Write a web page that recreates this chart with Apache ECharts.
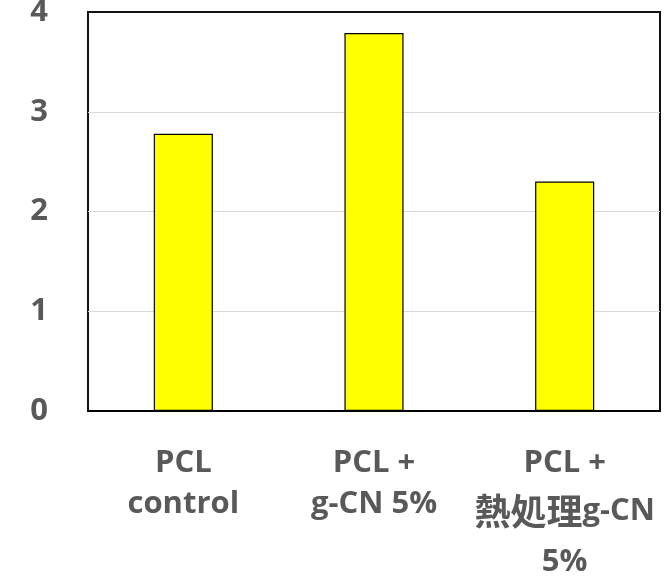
<!DOCTYPE html>
<html>
<head>
<meta charset="utf-8">
<script src="https://cdn.jsdelivr.net/npm/echarts@6/dist/echarts.min.js"></script>
<style>
  html, body { margin: 0; padding: 0; background: #fff; }
  #chart { width: 664px; height: 581px; }
</style>
</head>
<body>
<div id="chart"></div>
<script>
// Sample groups (rich-text tags pick the font and line spacing of each line)
const categories = [
  'PCL\ncontrol',
  'PCL +\ng-CN 5%',
  'PCL +\n{jp|熱処理}{jl|g-CN}\n{l3|5%}'
];
// Measured values per group
const values = [2.78, 3.79, 2.30];
// Value-axis ticks
const yTicks = [0, 1, 2, 3, 4];

const textColor = '#595959';
const latinFont = '"Open Sans", "Noto Sans CJK JP", sans-serif';

const chart = echarts.init(document.getElementById('chart'), null, { renderer: 'canvas' });
chart.setOption({
  animation: false,
  backgroundColor: '#ffffff',
  grid: {
    left: 88, right: 4, top: 12, bottom: 170,
    outerBoundsMode: 'none',
    containLabel: false,
    show: true,
    borderColor: '#111111',
    borderWidth: 2,
    backgroundColor: 'transparent'
  },
  xAxis: {
    type: 'category',
    data: categories,
    axisLine: { show: true, lineStyle: { color: '#000', width: 2 } },
    axisTick: { show: false },
    axisLabel: {
      interval: 0,
      margin: 32,
      color: textColor,
      fontFamily: latinFont,
      fontWeight: 'bold',
      fontSize: 31,
      lineHeight: 41,
      rich: {
        jp: {
          fontFamily: '"Noto Sans CJK JP", sans-serif',
          fontWeight: 'bold',
          fontSize: 36,
          lineHeight: 55,
          color: textColor
        },
        jl: {
          fontFamily: latinFont,
          fontWeight: 'bold',
          fontSize: 31,
          lineHeight: 55,
          color: textColor
        },
        l3: {
          fontFamily: latinFont,
          fontWeight: 'bold',
          fontSize: 31,
          lineHeight: 46,
          color: textColor
        }
      }
    }
  },
  yAxis: {
    type: 'value',
    min: yTicks[0],
    max: yTicks[yTicks.length - 1],
    interval: 1,
    axisLine: { show: false },
    axisTick: { show: false },
    splitLine: {
      show: true,
      showMinLine: false,
      showMaxLine: false,
      lineStyle: { color: '#d9d9d9', width: 1 }
    },
    axisLabel: {
      margin: 40,
      color: textColor,
      fontFamily: latinFont,
      fontWeight: 'bold',
      fontSize: 31
    }
  },
  series: [{
    type: 'bar',
    data: values,
    barWidth: '31%',
    itemStyle: { color: '#ffff00', borderColor: '#000', borderWidth: 1.2 }
  }]
});
</script>
</body>
</html>
